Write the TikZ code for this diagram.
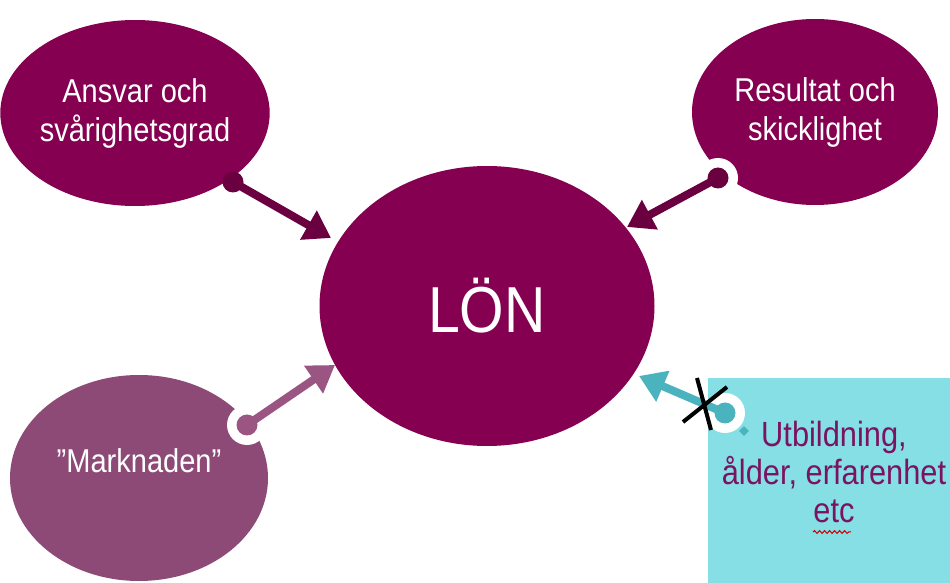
\documentclass[tikz,border=0pt]{standalone}
\usepackage{fontspec}
\setmainfont[FakeStretch=0.88]{Liberation Sans}
\usetikzlibrary{arrows.meta,shapes.geometric,decorations.pathmorphing}

\definecolor{lonred}{HTML}{850050}
\definecolor{lonmauve}{HTML}{8E4A77}
\definecolor{arrowdark}{HTML}{6A0040}
\definecolor{arrowmauve}{HTML}{9A5583}
\definecolor{boxcyan}{HTML}{86DFE4}
\definecolor{arrowcyan}{HTML}{4BB3BD}
\definecolor{cyantext}{HTML}{7A1462}

\tikzset{
  blob/.style={ellipse, fill=lonred, text=white, align=center, inner sep=0pt,
    font=\fontsize{16.5}{19.5}\selectfont},
  link/.style={line width=4pt, -{Triangle[width=16pt,length=13pt]}},
  knob/.style={circle, inner sep=0pt, minimum size=10.5pt},
  ring/.style={circle, fill=white, inner sep=0pt, minimum size=20pt},
}

\begin{document}
\begin{tikzpicture}[x=0.5pt,y=-0.5pt]
\useasboundingbox (0,0) rectangle (950,583);

\node[blob, minimum width=167.5pt, minimum height=140pt, font=\fontsize{32.5}{36}\selectfont] (lon) at (487,306) {LÖN};
\node[blob, minimum width=127pt, minimum height=93pt] (ansvar) at (135,113) {Ansvar och\\svårighetsgrad};
\node[blob, minimum width=123pt, minimum height=93pt] (resultat) at (815,112) {Resultat och\\skicklighet};
\node[blob, fill=lonmauve, minimum width=129pt, minimum height=103pt] (marknad) at (139,478) {};
\node[text=white, font=\fontsize{16.5}{19.5}\selectfont] (marknadtext) at (139,461) {”Marknaden”};

\fill[boxcyan] (708,378) rectangle (950,583);
\node[text=cyantext, align=center, font=\fontsize{17.5}{19}\selectfont] (utbildning) at (834,472) {Utbildning,\\ålder, erfarenhet\\etc};
\draw[red!80!black, line width=0.5pt, decorate, decoration={snake, amplitude=0.7pt, segment length=2.5pt}] (813,532) -- (851,532);

% top left
\node[knob, fill=arrowdark] (ansvarknob) at (233,182) {};
\coordinate (ansvartip) at (331,238);
\draw[link, arrowdark] (ansvarknob.center) -- (ansvartip);

% top right
\node[ring] (resultatring) at (718,178) {};
\node[knob, fill=arrowdark] (resultatknob) at (718,178) {};
\coordinate (resultattip) at (627,227);
\draw[link, arrowdark] (resultatknob.center) -- (resultattip);

% bottom left
\node[ring] (marknadring) at (247,425) {};
\node[knob, fill=arrowmauve] (marknadknob) at (247,425) {};
\coordinate (marknadtip) at (335,365);
\draw[link, arrowmauve] (marknadknob.center) -- (marknadtip);

% bottom right
\node[ring] (utbildningring) at (725,413) {};
\node[knob, fill=arrowcyan] (utbildningknob) at (725,413) {};
\node[fill=arrowcyan, rotate=45, inner sep=0pt, minimum size=3.5pt] (handle) at (744,431) {};
\coordinate (utbildningtip) at (639,376);
\draw[link, arrowcyan] (utbildningknob.center) -- (utbildningtip);

\draw[black, line width=2pt] (683,422) -- (727,387);
\draw[black, line width=2pt] (697,378) -- (711,430);
\end{tikzpicture}
\end{document}
